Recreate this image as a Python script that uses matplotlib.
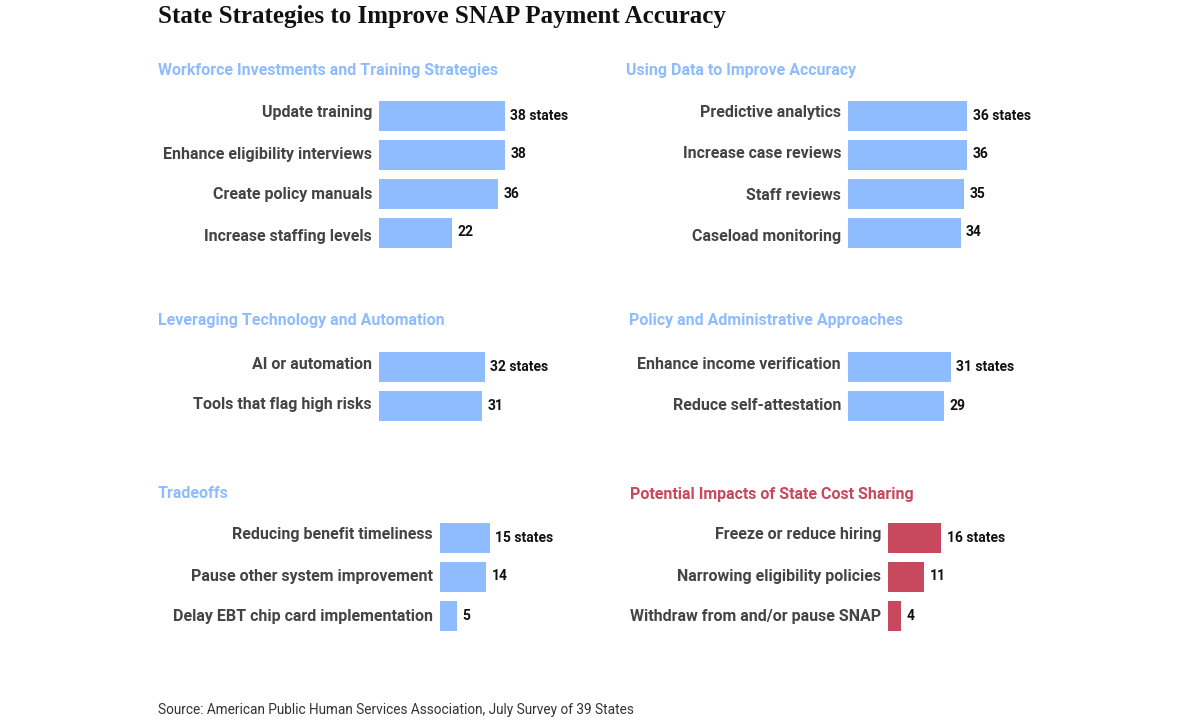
import matplotlib
matplotlib.use("Agg")
import matplotlib.pyplot as plt
from matplotlib.transforms import ScaledTranslation

# ============================================================
# DATA
# ============================================================

TITLE = "State Strategies to Improve SNAP Payment Accuracy"
SOURCE = "Source: American Public Human Services Association, July Survey of 39 States"

workforce_labels = ["Update training", "Enhance eligibility interviews",
                    "Create policy manuals", "Increase staffing levels"]
workforce_values = [38, 38, 36, 22]

data_labels = ["Predictive analytics", "Increase case reviews",
               "Staff reviews", "Caseload monitoring"]
data_values = [36, 36, 35, 34]

tech_labels = ["AI or automation", "Tools that flag high risks"]
tech_values = [32, 31]

policy_labels = ["Enhance income verification", "Reduce self-attestation"]
policy_values = [31, 29]

tradeoff_labels = ["Reducing benefit timeliness", "Pause other system improvement",
                   "Delay EBT chip card implementation"]
tradeoff_values = [15, 14, 5]

impact_labels = ["Freeze or reduce hiring", "Narrowing eligibility policies",
                 "Withdraw from and/or pause SNAP"]
impact_values = [16, 11, 4]

# ============================================================
# STYLE
# ============================================================

W, H = 1200, 720
BLUE = "#8ebcff"
RED = "#c8485d"
LABEL_COLOR = "#444444"
PX_PER_STATE = 3.31
PITCH = 39  # px between bar rows
SANS = ["Roboto", "DejaVu Sans"]

plt.rcParams["font.family"] = SANS

fig = plt.figure(figsize=(W / 100, H / 100), dpi=100)
fig.patch.set_facecolor("white")


def panel(bar_x, top_y, header_x, header_y, header, labels, values, color,
          header_color):
    n = len(labels)
    ax_w = 60 * PX_PER_STATE
    ax_h = n * PITCH
    ax = fig.add_axes([bar_x / W, 1 - (top_y + ax_h) / H, ax_w / W, ax_h / H])
    ypos = list(range(n))
    ax.barh(ypos, values, height=30 / PITCH, color=color)
    ax.set_xlim(0, 60)
    ax.set_ylim(n - 0.5, -0.5)
    ax.set_yticks(ypos, labels, fontsize=11.5, fontweight="bold",
                  color=LABEL_COLOR)
    ax.tick_params(axis="y", length=0, pad=5)
    ax.set_xticks([])
    # category labels sit on a slightly wider row pitch than the bars
    for i, lbl in enumerate(ax.get_yticklabels()):
        shift = ScaledTranslation(0, (4 - 2 * i) / 100, fig.dpi_scale_trans)
        lbl.set_transform(lbl.get_transform() + shift)
    for i, v in enumerate(values):
        txt = f"{v} states" if i == 0 else str(v)
        ax.annotate(txt, (v, i), xytext=(4, 0), textcoords="offset points",
                    ha="left", va="center", fontsize=10, fontweight="bold",
                    color="#111111")
    for s in ax.spines.values():
        s.set_visible(False)
    ax.patch.set_alpha(0)
    fig.text(header_x / W, 1 - header_y / H, header, ha="left", va="center",
             fontsize=11.5, fontweight="bold", color=header_color)
    return ax


panel(379, 96, 158, 70, "Workforce Investments and Training Strategies",
      workforce_labels, workforce_values, BLUE, BLUE)
panel(848, 96, 626, 70, "Using Data to Improve Accuracy",
      data_labels, data_values, BLUE, BLUE)
panel(379, 347, 158, 321, "Leveraging Technology and Automation",
      tech_labels, tech_values, BLUE, BLUE)
panel(848, 347, 629, 321, "Policy and Administrative Approaches",
      policy_labels, policy_values, BLUE, BLUE)
panel(440, 518, 158, 494, "Tradeoffs",
      tradeoff_labels, tradeoff_values, BLUE, BLUE)
panel(888, 518, 630, 494, "Potential Impacts of State Cost Sharing",
      impact_labels, impact_values, RED, RED)

fig.text(158 / W, 1 - 16 / H, TITLE, ha="left", va="center",
         fontsize=18, fontweight="bold", color="#111111",
         family=["Liberation Serif", "DejaVu Serif"])
fig.text(158 / W, 1 - 710 / H, SOURCE, ha="left", va="center",
         fontsize=9.8, color="#333333")

fig.savefig("out.png", dpi=100, facecolor="white")
